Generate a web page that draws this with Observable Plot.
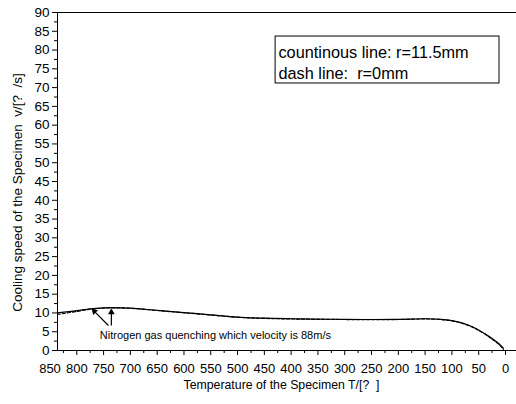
<!DOCTYPE html>
<html><head><meta charset="utf-8">
<script src="https://cdn.jsdelivr.net/npm/d3@7"></script>
<script src="https://cdn.jsdelivr.net/npm/@observablehq/plot@0.6"></script>
<style>body{margin:0;background:#fff;}</style>
</head><body><div id="chart"></div>
<script>
// Solid curve: r = 11.5 mm
const solidTemp  = [836, 800, 775, 750, 737, 700, 650, 600, 550, 500, 450, 400, 350, 300, 250, 200, 150, 120, 100, 80, 60, 40, 25, 12, 4];
const solidSpeed = [10.0, 10.6, 11.1, 11.35, 11.4, 11.3, 10.7, 10.1, 9.5, 8.9, 8.6, 8.45, 8.35, 8.3, 8.25, 8.3, 8.45, 8.3, 7.95, 7.3, 6.2, 4.6, 3.2, 1.8, 0.6];
// Dashed curve: r = 0 mm
const dashTemp  = [836, 800, 775, 750, 737, 700, 650, 600, 550, 500, 450, 400, 350, 300, 250, 200, 150, 120, 100, 80, 60, 40, 25, 12, 4];
const dashSpeed = [9.6, 10.4, 11.0, 11.3, 11.35, 11.25, 10.65, 10.05, 9.45, 8.85, 8.55, 8.4, 8.3, 8.25, 8.2, 8.25, 8.4, 8.25, 7.9, 7.2, 6.1, 4.5, 3.0, 1.6, 0.3];

const xTickLabels = [850, 800, 750, 700, 650, 600, 550, 500, 450, 400, 350, 300, 250, 200, 150, 100, 50, 0];
const xMajorTicks = [800, 750, 700, 650, 600, 550, 500, 450, 400, 350, 300, 250, 200, 150, 100, 50, 0];
const xMinorTicks = [825, 775, 725, 675, 625, 575, 525, 475, 425, 375, 325, 275, 225, 175, 125, 75, 25];
const yTickLabels = [0, 5, 10, 15, 20, 25, 30, 35, 40, 45, 50, 55, 60, 65, 70, 75, 80, 85, 90];
const yMinorTicks = [2.5, 7.5, 12.5, 17.5, 22.5, 27.5, 32.5, 37.5, 42.5, 47.5, 52.5, 57.5, 62.5, 67.5, 72.5, 77.5, 82.5, 87.5];

const xTitle = "Temperature of the Specimen T/[?\u00a0\u00a0]";
const yTitle = "Cooling speed of the Specimen\u00a0\u00a0v/[?\u00a0\u00a0/s]";
const legendLines = ["countinous line: r=11.5mm", "dash line:\u00a0\u00a0r=0mm"];
const annotation = "Nitrogen gas quenching which velocity is 88m/s";

// Annotation geometry in data units
const arrows = [
  {x1: 741, y1: 6.66, x2: 769, y2: 10.7, hx: 767.4, hy: 10.45, rot: -44},
  {x1: 735.5, y1: 6.66, x2: 735.5, y2: 10.5, hx: 735.5, hy: 10.2, rot: 0}
];

const solid = solidTemp.map((t, i) => ({t, v: solidSpeed[i]}));
const dash = dashTemp.map((t, i) => ({t, v: dashSpeed[i]}));

const chart = Plot.plot({
  width: 516,
  height: 404,
  marginLeft: 57,
  marginRight: 11,
  marginTop: 12,
  marginBottom: 54,
  style: {fontFamily: "'Liberation Sans', Arial, sans-serif", background: "#fff", color: "#000"},
  x: {domain: [836, 0], range: [57, 505]},
  y: {domain: [0, 90]},
  marks: [
    // frame lines
    Plot.ruleY([0, 90], {x1: 836, x2: -22, stroke: "#000", strokeWidth: 1}),
    Plot.ruleX([836], {y1: 0, y2: 90, stroke: "#000", strokeWidth: 1}),
    // axes ticks
    Plot.axisY({ticks: yTickLabels, tickSize: 5, tickPadding: 3, fontSize: 13.5, label: null}),
    Plot.axisY({ticks: yMinorTicks, tickSize: 3, tickFormat: () => "", label: null}),
    Plot.axisX({ticks: xMajorTicks, tickSize: 5, tickFormat: () => "", label: null}),
    Plot.axisX({ticks: xMinorTicks, tickSize: 3, tickFormat: () => "", label: null}),
    Plot.text(xTickLabels, {x: d => d, y: 0, dy: 18, text: d => String(d), fontSize: 13, fill: "#000"}),
    // axis titles
    Plot.text([xTitle], {frameAnchor: "bottom", lineAnchor: "middle", dy: 35, fontSize: 12.3, fill: "#000", text: d => d}),
    Plot.text([yTitle], {frameAnchor: "left", textAnchor: "middle", lineAnchor: "middle", dx: -40, dy: 11, rotate: -90, fontSize: 13.5, fill: "#000", text: d => d}),
    // curves
    Plot.line(dash, {x: "t", y: "v", stroke: "#000", strokeWidth: 1.2, strokeDasharray: "3,2", curve: "catmull-rom"}),
    Plot.line(solid, {x: "t", y: "v", stroke: "#000", strokeWidth: 1.2, curve: "catmull-rom"}),
    // annotation arrows
    Plot.link(arrows, {x1: "x1", y1: "y1", x2: "x2", y2: "y2", stroke: "#000", strokeWidth: 1.2}),
    Plot.dot(arrows, {x: "hx", y: "hy", symbol: "triangle2", r: 3.2, fill: "#000", rotate: "rot"}),
    Plot.text([annotation], {x: 757, y: 4.0, text: d => d, textAnchor: "start", fontSize: 11, fill: "#000"}),
    // legend box
    Plot.rect([0], {x1: 429, x2: 11.2, y1: 71.1, y2: 83.6, fill: "#fff", stroke: "#000", strokeWidth: 1}),
    Plot.text(legendLines, {x: 423.7, y: (d, i) => [79.3, 73.6][i], text: d => d, textAnchor: "start", fontSize: 16.3, fill: "#000"})
  ]
});
document.getElementById("chart").appendChild(chart);
</script>
</body></html>
